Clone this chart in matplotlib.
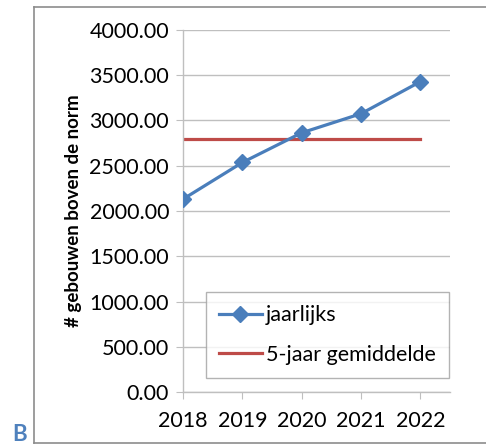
import matplotlib
matplotlib.use("Agg")
import matplotlib.pyplot as plt
from matplotlib.lines import Line2D

plt.rcParams['font.family'] = ['Lato', 'DejaVu Sans']

jaren = [2018, 2019, 2020, 2021, 2022]
jaarlijks = [2131, 2536, 2864, 3075, 3429]
gemiddelde = 2800
y_ticks = [0, 500, 1000, 1500, 2000, 2500, 3000, 3500, 4000]

W, H = 486, 444
fig = plt.figure(figsize=(W / 100, H / 100), dpi=100)
ax = fig.add_axes([183 / W, 1 - 392 / H, (450 - 183) / W, (392 - 30) / H])

blauw = '#4A7EBB'
rood = '#BE4B48'

ax.plot(jaren, jaarlijks, color=blauw, lw=2.3, marker='D', ms=8.5,
        label='jaarlijks', zorder=3)
ax.plot([jaren[0], jaren[-1]], [gemiddelde, gemiddelde], color=rood, lw=2.3,
        label='5-jaar gemiddelde', zorder=2)

ax.set_xlim(2018, 2022.5)
ax.set_ylim(0, 4000)
ax.set_yticks(y_ticks)
ax.set_yticklabels([f'{v:.2f}' for v in y_ticks])
ax.set_xticks(jaren)
ax.set_xticklabels([str(j) for j in jaren])

ax.grid(axis='y', color='#BFBFBF', lw=1)
ax.set_axisbelow(True)
for s in ['top', 'right']:
    ax.spines[s].set_visible(False)
for s in ['left', 'bottom']:
    ax.spines[s].set_color('#BFBFBF')
    ax.spines[s].set_linewidth(1)
ax.tick_params(axis='both', colors='#BFBFBF', labelcolor='black',
               labelsize=15.5, length=5)
ax.tick_params(axis='y', pad=5)
ax.tick_params(axis='x', pad=9)

ax.set_ylabel('# gebouwen boven de norm', fontsize=13.5, fontweight='bold',
              labelpad=5)

leg = ax.legend(loc='lower right', bbox_to_anchor=(0.995, 0.04), fontsize=15.5,
                frameon=True, fancybox=False, edgecolor='#A0A0A0',
                handlelength=2.0, handletextpad=0.2, labelspacing=0.9,
                borderpad=0.6, borderaxespad=0)
leg.get_frame().set_linewidth(1)

# rand om de figuur
rand = dict(color='#8C8C8C', lw=1.2, transform=fig.transFigure)
fig.add_artist(Line2D([34 / W, 34 / W], [1 - 443 / H, 1 - 7 / H], **rand))
fig.add_artist(Line2D([34 / W, 1], [1 - 7 / H, 1 - 7 / H], **rand))
fig.add_artist(Line2D([34 / W, 1], [1 - 443 / H, 1 - 443 / H], **rand))

fig.text(20 / W, 1 - 434 / H, 'B', color='#4F81BD', fontsize=16,
         fontweight='bold', ha='center', va='center')

fig.savefig('out.png', dpi=100)
